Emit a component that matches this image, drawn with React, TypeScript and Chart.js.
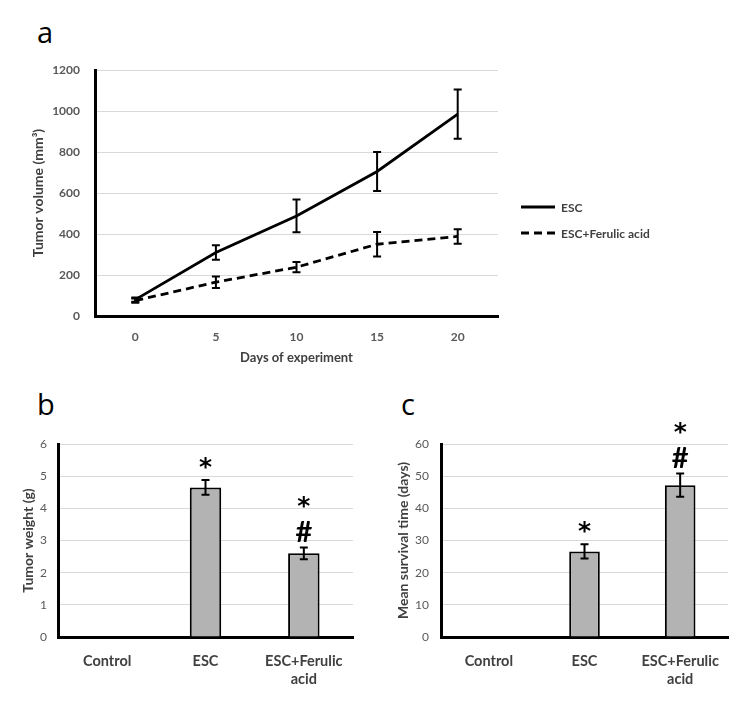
import React, { useEffect, useRef } from "react";
import { Chart, registerables } from "chart.js";

Chart.register(...registerables);

// ---------- Data ----------
const days = ["0", "5", "10", "15", "20"];
const escVolume = [80, 310, 488, 705, 985];
const escVolumeErr = [10, 35, 80, 95, 120];
const faVolume = [75, 165, 238, 350, 388];
const faVolumeErr = [10, 28, 25, 60, 35];

const groups: (string | string[])[] = ["Control", "ESC", ["ESC+Ferulic", "acid"]];
const tumorWeight = [null, 4.65, 2.6];
const tumorWeightErr = [null, 0.23, 0.18];
const weightStars = ["", "*", "*"];
const weightHashes = ["", "", "#"];

const survival = [null, 26.6, 47.2];
const survivalErr = [null, 2.2, 3.6];
const survivalStars = ["", "*", "*"];
const survivalHashes = ["", "", "#"];

// ---------- Styles ----------
const FONT = "Lato, 'Open Sans', sans-serif";
const TICK_COLOR = "#595959";
const LABEL_COLOR = "#404040";
const GRID_COLOR = "#d9d9d9";
const BAR_FILL = "#b3b3b3";

// ---------- Plugins ----------
const errorBarPlugin = {
  id: "errorBarsCustom",
  afterDatasetsDraw(chart: any) {
    const ctx = chart.ctx;
    const yScale = chart.scales.y;
    chart.data.datasets.forEach((ds: any, i: number) => {
      const errs = ds.errors;
      if (!errs) return;
      const meta = chart.getDatasetMeta(i);
      const cap = ds.capHalf ?? 4;
      meta.data.forEach((el: any, j: number) => {
        const v = ds.data[j];
        const e = errs[j];
        if (v == null || e == null) return;
        const x = el.x;
        const t = yScale.getPixelForValue(v + e);
        const b = yScale.getPixelForValue(v - e);
        ctx.save();
        ctx.setLineDash([]);
        ctx.strokeStyle = "#000";
        ctx.lineWidth = 2;
        ctx.beginPath();
        ctx.moveTo(x, t);
        ctx.lineTo(x, b);
        ctx.moveTo(x - cap, t);
        ctx.lineTo(x + cap, t);
        ctx.moveTo(x - cap, b);
        ctx.lineTo(x + cap, b);
        ctx.stroke();
        ctx.restore();
      });
    });
  },
};

function drawCentered(ctx: any, text: string, x: number, cy: number) {
  const m = ctx.measureText(text);
  const asc = m.actualBoundingBoxAscent;
  const desc = m.actualBoundingBoxDescent;
  ctx.fillText(text, x, cy + (asc - desc) / 2);
}

const markerPlugin = {
  id: "markersCustom",
  afterDatasetsDraw(chart: any) {
    const ctx = chart.ctx;
    const yScale = chart.scales.y;
    chart.data.datasets.forEach((ds: any, i: number) => {
      if (!ds.stars) return;
      const meta = chart.getDatasetMeta(i);
      meta.data.forEach((el: any, j: number) => {
        const v = ds.data[j];
        if (v == null) return;
        const e = ds.errors ? ds.errors[j] || 0 : 0;
        const top = yScale.getPixelForValue(v + e);
        const star = ds.stars[j];
        const hash = ds.hashes ? ds.hashes[j] : "";
        ctx.save();
        ctx.fillStyle = "#000";
        ctx.textAlign = "center";
        ctx.textBaseline = "alphabetic";
        if (hash) {
          ctx.font = `bold 29px ${FONT}`;
          drawCentered(ctx, hash, el.x, top - 16);
        }
        if (star) {
          ctx.font = `bold 25px 'DejaVu Sans', sans-serif`;
          drawCentered(ctx, star, el.x, top - (hash ? 46 : 17));
        }
        ctx.restore();
      });
    });
  },
};

const lineLegendPlugin = {
  id: "lineLegendCustom",
  afterDraw(chart: any) {
    const { ctx, chartArea } = chart;
    const x0 = chartArea.right + 23;
    const mid = (chartArea.top + chartArea.bottom) / 2;
    const offsets = [14, 40];
    chart.data.datasets.forEach((ds: any, i: number) => {
      const y = mid + offsets[i];
      ctx.save();
      ctx.strokeStyle = ds.borderColor;
      ctx.lineWidth = ds.borderWidth;
      ctx.setLineDash(ds.borderDash || []);
      ctx.beginPath();
      ctx.moveTo(x0, y);
      ctx.lineTo(x0 + 34, y);
      ctx.stroke();
      ctx.setLineDash([]);
      ctx.fillStyle = LABEL_COLOR;
      ctx.font = `bold 12px ${FONT}`;
      ctx.textAlign = "left";
      ctx.textBaseline = "middle";
      ctx.fillText(ds.label, x0 + 40, y + 1);
      ctx.restore();
    });
  },
};

const plainTick = (v: any) => String(v);

// ---------- Configs ----------
function lineConfig(): any {
  return {
    type: "line",
    data: {
      labels: days,
      datasets: [
        {
          label: "ESC",
          data: escVolume,
          errors: escVolumeErr,
          borderColor: "#000",
          borderWidth: 2.8,
          pointRadius: 0,
          tension: 0,
          capHalf: 4,
        },
        {
          label: "ESC+Ferulic acid",
          data: faVolume,
          errors: faVolumeErr,
          borderColor: "#000",
          borderWidth: 2.8,
          borderDash: [8, 5],
          pointRadius: 0,
          tension: 0,
          capHalf: 4,
        },
      ],
    },
    options: {
      responsive: false,
      animation: false,
      devicePixelRatio: 1,
      layout: { padding: { left: 0, right: 252, top: 30, bottom: 0 } },
      plugins: { legend: { display: false }, tooltip: { enabled: false } },
      scales: {
        x: {
          type: "category",
          offset: true,
          grid: { display: false, drawTicks: false },
          border: { display: true, color: "#000", width: 3 },
          ticks: {
            padding: 14,
            color: TICK_COLOR,
            font: { family: FONT, size: 12, weight: "bold" },
          },
          title: {
            display: true,
            text: "Days of experiment",
            color: LABEL_COLOR,
            font: { family: FONT, size: 13, weight: "bold" },
            padding: { top: 0, bottom: 14 },
          },
          afterFit(scale: any) {
            scale.height = 64;
          },
        },
        y: {
          min: 0,
          max: 1200,
          grid: { color: GRID_COLOR, lineWidth: 1, drawTicks: false },
          border: { display: true, color: "#000", width: 3 },
          ticks: {
            stepSize: 200,
            padding: 15,
            color: TICK_COLOR,
            font: { family: FONT, size: 12, weight: "bold" },
            callback: plainTick,
          },
          title: {
            display: true,
            text: "Tumor volume (mm³)",
            color: LABEL_COLOR,
            font: { family: FONT, size: 14, weight: "bold" },
            padding: { top: 30, bottom: 0 },
          },
          afterFit(scale: any) {
            scale.width = 95;
          },
        },
      },
    },
    plugins: [errorBarPlugin, lineLegendPlugin],
  };
}

function barConfig(
  values: (number | null)[],
  errs: (number | null)[],
  stars: string[],
  hashes: string[],
  yTitle: string,
  max: number,
  step: number,
  yWidth: number,
  rightPad: number,
  tickPad: number,
  tickSize: number
): any {
  return {
    type: "bar",
    data: {
      labels: groups,
      datasets: [
        {
          label: yTitle,
          data: values,
          errors: errs,
          stars,
          hashes,
          capHalf: 4,
          backgroundColor: BAR_FILL,
          borderColor: "#000",
          borderWidth: 2,
          borderSkipped: "bottom",
          categoryPercentage: 1,
          barPercentage: 0.32,
        },
      ],
    },
    options: {
      responsive: false,
      animation: false,
      devicePixelRatio: 1,
      layout: { padding: { left: 0, right: rightPad, top: 44, bottom: 0 } },
      plugins: { legend: { display: false }, tooltip: { enabled: false } },
      scales: {
        x: {
          grid: { display: false, drawTicks: false },
          border: { display: true, color: "#000", width: 3 },
          ticks: {
            padding: 15,
            color: LABEL_COLOR,
            font: { family: FONT, size: 14.5, weight: "bold", lineHeight: 1.25 },
            maxRotation: 0,
            autoSkip: false,
          },
          afterFit(scale: any) {
            scale.height = 70;
          },
        },
        y: {
          min: 0,
          max,
          grid: { color: GRID_COLOR, lineWidth: 1, drawTicks: false },
          border: { display: true, color: "#000", width: 3 },
          ticks: {
            stepSize: step,
            padding: tickPad,
            color: TICK_COLOR,
            font: { family: FONT, size: tickSize, weight: "normal" },
            callback: plainTick,
          },
          title: {
            display: true,
            text: yTitle,
            color: LABEL_COLOR,
            font: { family: FONT, size: 14, weight: "bold" },
            padding: { top: 20, bottom: 0 },
          },
          afterFit(scale: any) {
            scale.width = yWidth;
          },
        },
      },
    },
    plugins: [errorBarPlugin, markerPlugin],
  };
}

// ---------- Components ----------
function ChartBox(props: { make: () => any; left: number; top: number; width: number; height: number }) {
  const ref = useRef<HTMLCanvasElement>(null);
  useEffect(() => {
    const chart = new Chart(ref.current as HTMLCanvasElement, props.make());
    return () => chart.destroy();
  }, []);
  return (
    <div style={{ position: "absolute", left: props.left, top: props.top, width: props.width, height: props.height }}>
      <canvas
        ref={ref}
        width={props.width}
        height={props.height}
        style={{ width: props.width, height: props.height, display: "block" }}
      />
    </div>
  );
}

const letterStyle: React.CSSProperties = {
  position: "absolute",
  fontFamily: "'Open Sans', sans-serif",
  fontSize: 29,
  lineHeight: "29px",
  color: "#000",
  margin: 0,
};

export default function App() {
  return (
    <div
      style={{
        position: "absolute",
        left: 0,
        top: 0,
        width: 750,
        height: 707,
        background: "#fff",
        overflow: "hidden",
      }}
    >
      <div style={{ ...letterStyle, left: 37, top: 17 }}>a</div>
      <div style={{ ...letterStyle, left: 37, top: 389 }}>b</div>
      <div style={{ ...letterStyle, left: 401, top: 389 }}>c</div>
      <ChartBox make={lineConfig} left={0} top={40} width={750} height={340} />
      <ChartBox
        make={() =>
          barConfig(tumorWeight, tumorWeightErr, weightStars, weightHashes, "Tumor weight (g)", 6, 1, 58, 22, 11, 12)
        }
        left={0}
        top={400}
        width={375}
        height={307}
      />
      <ChartBox
        make={() =>
          barConfig(survival, survivalErr, survivalStars, survivalHashes, "Mean survival time (days)", 60, 10, 66, 22, 12, 12)
        }
        left={375}
        top={400}
        width={375}
        height={307}
      />
    </div>
  );
}
